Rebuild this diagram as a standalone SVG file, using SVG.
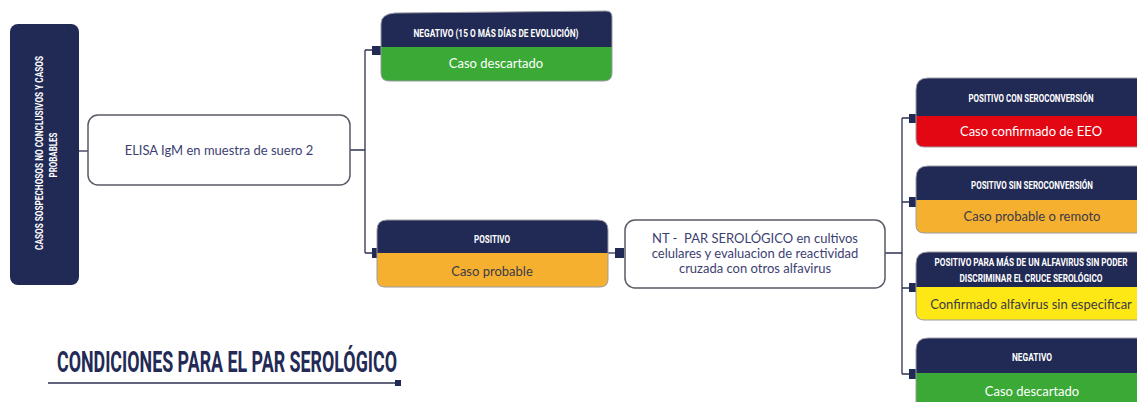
<svg xmlns="http://www.w3.org/2000/svg" width="1137" height="402" viewBox="0 0 1137 402">
<style>
.navy{fill:#212a55}
.hdr{font-family:Roboto,"Liberation Sans",sans-serif;font-weight:700;font-size:11px;fill:#ffffff;text-anchor:middle}
.body{font-family:Lato,"Open Sans",sans-serif;font-size:13px;text-anchor:middle}
.w{fill:#ffffff}
.d{fill:#3b3a48}
.box{fill:#ffffff;stroke:#5a5a66;stroke-width:1.5}
.bt{font-family:Lato,"Open Sans",sans-serif;font-size:13px;fill:#3d3f73;text-anchor:middle}
.outline{fill:none;stroke:#9a9aa4;stroke-width:1}
.conn{fill:none;stroke:#2e3252;stroke-width:1.3}
.sq{fill:#212a55}
</style>
<g id="connectors">
<path class="conn" d="M79,151 H88"/>
<path class="conn" d="M350,150 H365 M365,50 V253 M365,50 H373 M365,253 H373"/>
<path class="conn" d="M608,253 H616"/>
<path class="conn" d="M885,253 H902 M902,118 V374 M902,118 H910 M902,202 H910 M902,288 H910 M902,374 H910"/>
<rect class="sq" x="372" y="46" width="9" height="9"/>
<rect class="sq" x="372" y="248" width="9" height="10"/>
<rect class="sq" x="615" y="248" width="9" height="10"/>
<rect class="sq" x="909" y="114" width="8" height="9"/>
<rect class="sq" x="909" y="197" width="8" height="10"/>
<rect class="sq" x="909" y="283" width="8" height="9"/>
<rect class="sq" x="909" y="369" width="8" height="10"/>
</g>
<g id="left-node">
<rect class="navy" x="10" y="24" width="69" height="261" rx="8"/>
<text class="hdr" font-size="10.5" transform="translate(43,153) rotate(-90)" textLength="194" lengthAdjust="spacingAndGlyphs">CASOS SOSPECHOSOS NO CONCLUSIVOS Y CASOS</text>
<text class="hdr" font-size="10.5" transform="translate(57,155) rotate(-90)" textLength="45" lengthAdjust="spacingAndGlyphs">PROBABLES</text>
</g>
<g id="elisa">
<rect class="box" x="88" y="115" width="262" height="70" rx="10"/>
<text class="bt" x="219" y="155">ELISA IgM en muestra de suero 2</text>
</g>
<g id="negativo-top">
<path class="navy" d="M381,24 Q381,14 395,13 L606,11 Q612,11 612,17 V47 H381 Z"/>
<path fill="#3aa935" d="M381,47 H612 V73 Q612,81 604,81 H389 Q381,81 381,73 Z"/>
<path class="outline" d="M381,24 Q381,14 395,13 L606,11 Q612,11 612,17 V73 Q612,81 604,81 H389 Q381,81 381,73 Z"/>
<text class="hdr" x="496" y="37" textLength="165" lengthAdjust="spacingAndGlyphs">NEGATIVO (15 O MÁS DÍAS DE EVOLUCIÓN)</text>
<text class="body w" x="496" y="68">Caso descartado</text>
</g>
<g id="positivo">
<path class="navy" d="M377,230 Q377,220 387,220 H598 Q608,220 608,230 V253 H377 Z"/>
<path fill="#f6b030" d="M377,253 H608 V279 Q608,287 600,287 H385 Q377,287 377,279 Z"/>
<path class="outline" d="M377,230 Q377,220 387,220 H598 Q608,220 608,230 V279 Q608,287 600,287 H385 Q377,287 377,279 Z"/>
<text class="hdr" x="492" y="243" textLength="36" lengthAdjust="spacingAndGlyphs">POSITIVO</text>
<text class="body d" x="492" y="276">Caso probable</text>
</g>
<g id="nt">
<rect class="box" x="625" y="220" width="260" height="68" rx="10"/>
<text class="bt" x="755" y="243" xml:space="preserve">NT -  PAR SEROLÓGICO en cultivos</text>
<text class="bt" x="755" y="258">celulares y evaluacion de reactividad</text>
<text class="bt" x="755" y="273">cruzada con otros alfavirus</text>
</g>
<g id="pos-con">
<path class="navy" d="M916,90 Q916,78 928,78 H1140 Q1148,78 1148,86 V116 H916 Z"/>
<path fill="#e30613" d="M916,116 H1148 V147 H924 Q916,147 916,139 Z"/>
<path class="outline" d="M916,90 Q916,78 928,78 H1148 M916,90 V139 Q916,147 924,147 H1148"/>
<text class="hdr" x="1031" y="102" textLength="125" lengthAdjust="spacingAndGlyphs">POSITIVO CON SEROCONVERSIÓN</text>
<text class="body w" x="1031" y="136">Caso confirmado de EEO</text>
</g>
<g id="pos-sin">
<path class="navy" d="M916,178 Q916,166 928,166 H1148 V200 H916 Z"/>
<path fill="#f6b030" d="M916,200 H1148 V233 H924 Q916,233 916,225 Z"/>
<path class="outline" d="M916,178 Q916,166 928,166 H1148 M916,178 V225 Q916,233 924,233 H1148"/>
<text class="hdr" x="1032" y="189" textLength="122" lengthAdjust="spacingAndGlyphs">POSITIVO SIN SEROCONVERSIÓN</text>
<text class="body d" x="1032" y="221">Caso probable o remoto</text>
</g>
<g id="pos-mas">
<path class="navy" d="M916,264 Q916,252 928,252 H1148 V287 H916 Z"/>
<path fill="#fde714" d="M916,287 H1148 V320 H924 Q916,320 916,312 Z"/>
<path class="outline" d="M916,264 Q916,252 928,252 H1148 M916,264 V312 Q916,320 924,320 H1148"/>
<text class="hdr" x="1031" y="266" textLength="193" lengthAdjust="spacingAndGlyphs">POSITIVO PARA MÁS DE UN ALFAVIRUS SIN PODER</text>
<text class="hdr" x="1031" y="282" textLength="143" lengthAdjust="spacingAndGlyphs">DISCRIMINAR EL CRUCE SEROLÓGICO</text>
<text class="body d" x="1031" y="309">Confirmado alfavirus sin especificar</text>
</g>
<g id="neg-bottom">
<path class="navy" d="M916,350 Q916,338 928,338 H1148 V373 H916 Z"/>
<path fill="#3aa935" d="M916,373 H1148 V410 H916 Z"/>
<path class="outline" d="M916,350 Q916,338 928,338 H1148 M916,350 V410"/>
<text class="hdr" x="1032" y="361" textLength="40" lengthAdjust="spacingAndGlyphs">NEGATIVO</text>
<text class="body w" x="1032" y="396">Caso descartado</text>
</g>
<g id="title">
<text x="57" y="372" font-family="Roboto,'Liberation Sans',sans-serif" font-weight="700" font-size="30" fill="#232a55" textLength="340" lengthAdjust="spacingAndGlyphs">CONDICIONES PARA EL PAR SEROLÓGICO</text>
<path d="M48,383 H398" stroke="#2e3252" stroke-width="1.5"/>
<rect class="sq" x="395" y="380" width="6" height="6"/>
</g>
</svg>
